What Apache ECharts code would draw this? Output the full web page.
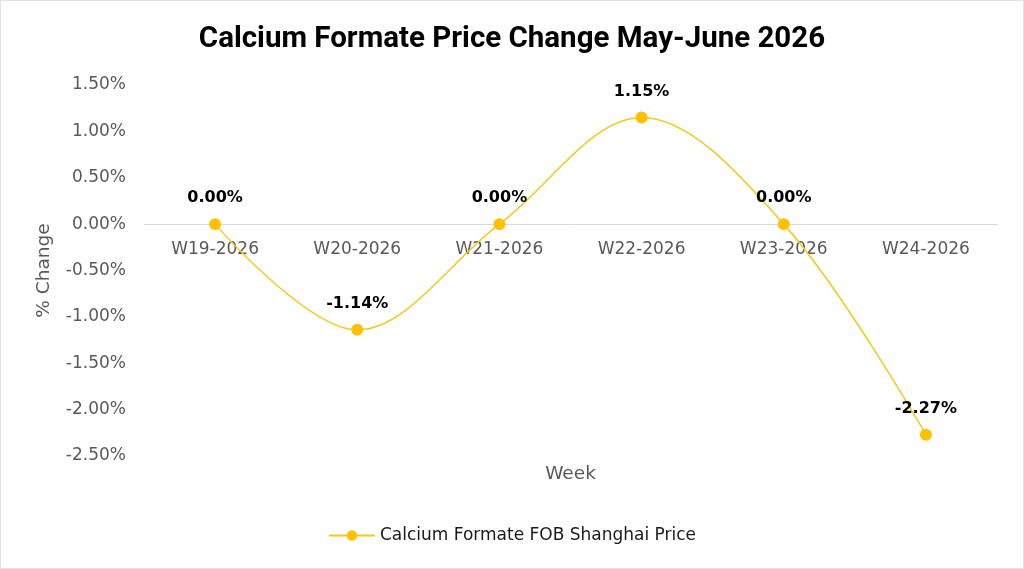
<!DOCTYPE html>
<html>
<head>
<meta charset="utf-8">
<script src="https://cdn.jsdelivr.net/npm/echarts@6/dist/echarts.min.js"></script>
<style>
    html, body { margin: 0; padding: 0; background: #fff; }
    #chart { width: 1022px; height: 567px; border: 1px solid #e3e3e3; }
</style>
</head>
<body>
<div id="chart"></div>
<script>
    // data
    var weeks = ['W19-2026', 'W20-2026', 'W21-2026', 'W22-2026', 'W23-2026', 'W24-2026'];
    var priceChange = [0.00, -1.14, 0.00, 1.15, 0.00, -2.27];
    var seriesName = 'Calcium Formate FOB Shanghai Price';

    var yMin = -2.5, yMax = 1.5;
    var gridTop = 84, gridBottom = 112;
    // move the category axis (labels + name) up onto the 0% line
    var plotH = 567 - gridTop - gridBottom;
    var zeroOffset = -plotH * (0 - yMin) / (yMax - yMin);

    var myChart = echarts.init(document.getElementById('chart'));
    var option = {
        animation: false,
        title: {
            text: 'Calcium Formate Price Change May-June 2026',
            left: 'center',
            top: 19,
            textStyle: {
                fontFamily: 'Roboto',
                fontSize: 29.5,
                fontWeight: 'bold',
                color: '#000'
            }
        },
        legend: {
            bottom: 19,
            left: 'center',
            itemWidth: 46,
            itemHeight: 13,
            textStyle: {
                fontFamily: 'DejaVu Sans',
                fontSize: 17,
                color: '#1a1a1a'
            },
            data: [seriesName]
        },
        grid: {
            left: 143,
            right: 26,
            top: gridTop,
            bottom: gridBottom,
            outerBoundsMode: 'none',
            containLabel: false
        },
        xAxis: {
            type: 'category',
            data: weeks,
            position: 'bottom',
            offset: zeroOffset,
            name: 'Week',
            nameLocation: 'middle',
            nameGap: 241,
            nameTextStyle: {
                fontFamily: 'DejaVu Sans',
                fontSize: 18.5,
                color: '#595959'
            },
            axisLine: { onZero: false, lineStyle: { color: '#d9d9d9', width: 1 } },
            axisTick: { show: false },
            axisLabel: {
                margin: 17,
                fontFamily: 'DejaVu Sans',
                fontSize: 17,
                color: '#595959'
            }
        },
        yAxis: {
            type: 'value',
            min: yMin,
            max: yMax,
            interval: 0.5,
            name: '% Change',
            nameLocation: 'middle',
            nameGap: 90,
            nameTextStyle: {
                fontFamily: 'DejaVu Sans',
                fontSize: 18.5,
                color: '#595959'
            },
            splitLine: { show: false },
            axisLine: { show: false },
            axisTick: { show: false },
            axisLabel: {
                margin: 18,
                padding: [4, 0, 0, 0],
                fontFamily: 'DejaVu Sans',
                fontSize: 17,
                color: '#595959',
                formatter: function (v) { return v.toFixed(2) + '%'; }
            }
        },
        series: [
            {
                name: seriesName,
                type: 'line',
                data: priceChange,
                smooth: 0.35,
                symbol: 'circle',
                symbolSize: 12,
                itemStyle: { color: '#FFC000' },
                lineStyle: { color: '#F5C81E', width: 1.5 },
                label: {
                    show: true,
                    position: 'top',
                    distance: 12,
                    fontFamily: 'DejaVu Sans',
                    fontSize: 16,
                    fontWeight: 'bold',
                    color: '#000',
                    formatter: function (p) { return p.value.toFixed(2) + '%'; }
                }
            }
        ]
    };
    myChart.setOption(option);
</script>
</body>
</html>
